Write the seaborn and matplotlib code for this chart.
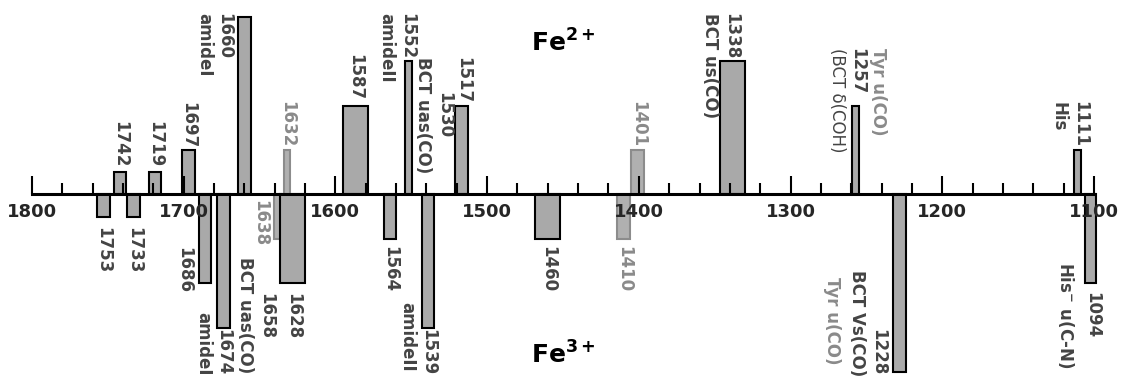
import matplotlib
matplotlib.use("Agg")
import matplotlib.pyplot as plt
import seaborn as sns
import numpy as np

# peaks seen with Fe2+ (drawn upward) and Fe3+ (drawn downward)
fe2_peaks = [1742, 1719, 1697, 1660, 1632, 1587, 1552, 1517, 1401, 1338, 1257, 1111]
fe2_pos = [1742, 1719, 1697, 1660, 1632, 1587, 1552, 1517, 1401, 1338, 1257, 1111]
fe2_int = [0.5, 0.5, 1, 4, 1, 2, 3, 2, 1, 3, 2, 1]
fe2_faint = [1632, 1401]

fe3_peaks = [1753, 1733, 1686, 1674, 1638, 1628, 1564, 1539, 1460, 1410, 1228, 1094]
fe3_pos = [1753, 1733, 1686, 1674, 1638, 1628, 1564, 1539, 1460, 1410, 1228, 1102.3]
fe3_int = [-0.5, -0.5, -2, -3, -1, -2, -1, -3, -1, -1, -4, -2]
fe3_faint = [1638, 1410]

# bar widths (cm-1), styling only
fe2_width = [8.4, 8.4, 8.4, 8.4, 4.4, 16.5, 4.4, 8.4, 8.4, 16.5, 4.4, 4.4]
fe3_width = [8.4, 8.4, 8.4, 8.4, 4.4, 16.5, 8.4, 8.4, 16.7, 8.6, 8.4, 7.3]

DARK = "#444444"
LIGHT = "#8a8a8a"
FILL = "#a9a9a9"

# where the wavenumber labels sit: peak -> (x, y, va)
num_pos = {
    1742: (1742, 0.62, "bottom"), 1719: (1718.5, 0.62, "bottom"),
    1697: (1697, 1.05, "bottom"), 1660: (1673.4, 4.09, "top"),
    1632: (1631.9, 1.07, "bottom"), 1587: (1587.1, 2.13, "bottom"),
    1552: (1552.8, 4.09, "top"), 1517: (1515.9, 2.06, "bottom"),
    1401: (1400.7, 1.07, "bottom"), 1338: (1338.8, 4.09, "top"),
    1257: (1256.2, 3.30, "top"), 1111: (1109.2, 1.07, "bottom"),
    1753: (1753.2, -0.73, "top"), 1733: (1732.8, -0.73, "top"),
    1686: (1699.8, -1.18, "top"), 1674: (1674.1, -3.03, "top"),
    1638: (1649.7, -0.12, "top"), 1628: (1627.9, -2.22, "top"),
    1564: (1564.0, -1.16, "top"), 1539: (1538.9, -3.03, "top"),
    1460: (1459.9, -1.16, "top"), 1410: (1409.8, -1.16, "top"),
    1228: (1242.3, -3.03, "top"), 1094: (1101.3, -2.20, "top"),
}

# assignment texts: (text, x, y, va, color, weight)
notes = [
    ("amideI", 1686.6, 4.09, "top", DARK, "bold"),
    ("amideII", 1566.2, 4.09, "top", DARK, "bold"),
    ("BCT uas(CO)", 1542.3, 3.10, "top", DARK, "bold"),
    ("1530", 1528.4, 2.31, "top", DARK, "bold"),
    ("BCT us(CO)", 1353.1, 4.09, "top", DARK, "bold"),
    ("(BCT δ(COH)", 1269.3, 3.30, "top", DARK, "normal"),
    ("Tyr u(CO)", 1242.3, 3.30, "top", LIGHT, "bold"),
    ("His", 1123.6, 2.08, "top", DARK, "bold"),
    ("amideI", 1687.3, -2.65, "top", DARK, "bold"),
    ("BCT uas(CO)", 1659.6, -1.41, "top", DARK, "bold"),
    ("1658", 1645.7, -2.22, "top", DARK, "bold"),
    ("amideII", 1552.8, -2.42, "top", DARK, "bold"),
    ("Tyr u(CO)", 1272.6, -1.86, "top", LIGHT, "bold"),
    ("BCT Vs(CO)", 1256.2, -1.70, "top", DARK, "bold"),
    (r"His$^{\mathbf{-}}$ u(C-N)", 1118.4, -1.52, "top", DARK, "bold"),
]

sns.set_style("white")
plt.rcParams["font.family"] = ["DejaVu Sans"]
plt.rcParams["mathtext.fontset"] = "dejavusans"

fig = plt.figure(figsize=(11.27, 3.76), dpi=100)
ax = fig.add_axes([0, 0, 1, 1])

def draw(peaks, pos, inten, widths, faint):
    for p, x, h, w in zip(peaks, pos, inten, widths):
        light = p in faint
        sns.barplot(x=[x], y=[h], native_scale=True, width=w, orient="x",
                    color="#b0b0b0" if light else FILL,
                    edgecolor="#8c8c8c" if light else "black",
                    linewidth=1.5, errorbar=None, ax=ax)

draw(fe3_peaks, fe3_pos, fe3_int, fe3_width, fe3_faint)
draw(fe2_peaks, fe2_pos, fe2_int, fe2_width, fe2_faint)

for p, (x, y, va) in num_pos.items():
    c = LIGHT if p in fe2_faint + fe3_faint else DARK
    ax.text(x, y, str(p), rotation=270, ha="center", va=va,
            fontsize=12, fontweight="bold", color=c)

for s, x, y, va, c, wt in notes:
    ax.text(x, y, s, rotation=270, ha="center", va=va,
            fontsize=12, fontweight=wt, color=c)

ax.text(1471.1, 3.21, r"Fe$^{\mathbf{2+}}$", fontsize=18, fontweight="bold",
        ha="left", va="baseline", color="black")
ax.text(1471.1, -3.80, r"Fe$^{\mathbf{3+}}$", fontsize=18, fontweight="bold",
        ha="left", va="baseline", color="black")

# axis
ax.set_xlim(1821.1, 1078.2)
ax.set_ylim(-4.09, 4.38)
ax.set_xlabel("")
ax.set_ylabel("")
for side in ["top", "right", "left"]:
    ax.spines[side].set_visible(False)
ax.spines["bottom"].set_position(("data", 0))
ax.spines["bottom"].set_bounds(1100, 1800)
ax.spines["bottom"].set_linewidth(2.2)
ax.spines["bottom"].set_color("black")
ax.yaxis.set_visible(False)
ax.set_xticks(np.arange(1100, 1801, 100))
ax.set_xticks(np.arange(1100, 1801, 20), minor=True)
ax.tick_params(axis="x", which="major", direction="in", length=13, width=1.5,
               pad=6, labelsize=13, color="black", bottom=True)
ax.tick_params(axis="x", which="minor", direction="in", length=8, width=1.5,
               color="black", bottom=True)
for t in ax.get_xticklabels():
    t.set_fontweight("bold")
ax.set_axisbelow(False)

fig.savefig("out.png", dpi=100)
